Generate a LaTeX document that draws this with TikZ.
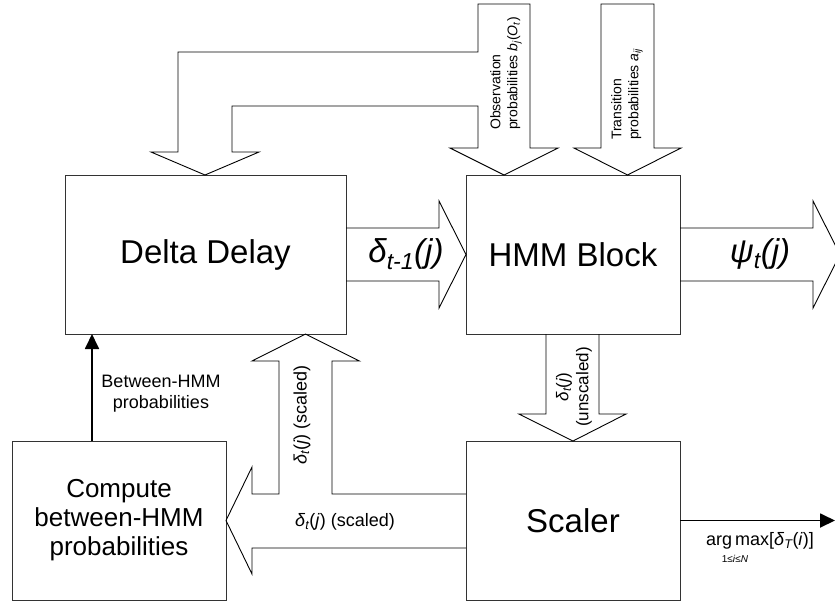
\documentclass[tikz,border=0pt]{standalone}
\usepackage{fontspec}
\setmainfont{Liberation Sans}
\usetikzlibrary{arrows.meta}
\begin{document}
\begin{tikzpicture}[x=1pt,y=1pt,
  box/.style={draw=black!80, line width=0.9pt, inner sep=0pt, outer sep=0pt,
    minimum width=214pt, minimum height=159pt, align=center},
  blockarrow/.style={draw=black, line width=0.9pt, line join=miter},
  thinarrow/.style={draw=black, line width=1.8pt, -{Triangle[length=15pt,width=14pt]}},
  bigtext/.style={font=\fontsize{33}{38}\selectfont},
  midtext/.style={font=\fontsize{26}{29}\selectfont},
  lbltext/.style={font=\fontsize{18}{21}\selectfont},
  smalltext/.style={font=\fontsize{14}{17}\selectfont},
]
\useasboundingbox (0,0) rectangle (835,-603);
\clip (0,0) rectangle (835,-603);

% boxes
\node[box, minimum width=281pt, bigtext] (dd) at (205.5,-254.5) {Delta Delay};
\node[box, bigtext] (hmm) at (573,-254.5) {HMM Block};
\node[box, bigtext] (sc) at (573,-520.5) {Scaler};
\node[box, midtext] (cmp) at (119,-520.5) {Compute\\between-HMM\\probabilities};

% observation arrow with branch to Delta Delay
\draw[blockarrow] (151,-152) -- (205,-175) -- (259,-152) -- (232,-152) -- (232,-106)
  -- (478,-106) -- (478,-148) -- (450,-148) -- (504,-175) -- (558,-148) -- (530,-148)
  -- (530,-4) -- (478,-4) -- (478,-52) -- (178,-52) -- (178,-152) -- cycle;
% transition arrow
\draw[blockarrow] (601,-4) -- (654,-4) -- (654,-148) -- (681,-148) -- (627.5,-175)
  -- (574,-148) -- (601,-148) -- cycle;
% delta t-1 arrow
\draw[blockarrow] (dd.east |- 0,-228) -- (439,-228) -- (439,-201) -- (hmm.west)
  -- (439,-308) -- (439,-281) -- (dd.east |- 0,-281);
% psi arrow
\draw[blockarrow] (hmm.east |- 0,-228) -- (813,-228) -- (813,-201) -- (840,-254.5)
  -- (813,-308) -- (813,-281) -- (hmm.east |- 0,-281);
% unscaled arrow
\draw[blockarrow] (546,-334) -- (546,-414) -- (519,-414) -- (sc.north)
  -- (626,-414) -- (599,-414) -- (599,-334);
% scaled arrows (up to Delta Delay and left to Compute)
\draw[blockarrow] (sc.west |- 0,-494) -- (332,-494) -- (332,-361) -- (359.5,-361)
  -- (305.5,-334) -- (252,-361) -- (279,-361) -- (279,-494) -- (252,-494)
  -- (252,-467) -- (cmp.east) -- (252,-574) -- (252,-548) -- (sc.west |- 0,-548);

% labels
\node[bigtext, font=\fontsize{33}{38}\selectfont\itshape] (l1) at (406,-254)
  {δ\textsubscript{t-1}(j)};
\node[bigtext, font=\fontsize{33}{38}\selectfont\itshape] (l2) at (760,-254)
  {ψ\textsubscript{t}(j)};
\node[smalltext, rotate=90, anchor=west, align=left, inner sep=0pt] (lobs) at (506,-130)
  {Observation\\probabilities \textit{b}\textsubscript{\itshape j}(\textit{O}\textsubscript{\itshape t})};
\node[smalltext, rotate=90, anchor=west, align=left, inner sep=0pt] (ltr) at (627,-140)
  {Transition\\probabilities \textit{a}\textsubscript{\itshape ij}};
\node[lbltext, font=\fontsize{17}{20}\selectfont, rotate=90, align=center, inner sep=0pt] (lun) at (574,-387)
  {\textit{δ}\textsubscript{\itshape t}(\textit{j})\\(unscaled)};
\node[lbltext, rotate=90, inner sep=0pt] (lsc1) at (302,-415)
  {\textit{δ}\textsubscript{\itshape t}(\textit{j}) (scaled)};
\node[lbltext, inner sep=0pt] (lsc2) at (345,-522)
  {\textit{δ}\textsubscript{\itshape t}(\textit{j}) (scaled)};
\node[lbltext, align=center, inner sep=0pt] (lbh) at (161,-394)
  {Between-HMM\\probabilities};
\node[lbltext, inner sep=0pt] (lam) at (760,-541)
  {arg\,max[\textit{δ}\textsubscript{\itshape T}(\textit{i})]};
\node[font=\fontsize{10}{12}\selectfont, inner sep=0pt] (lsub) at (735,-559)
  {1≤\textit{i}≤\textit{N}};

% thin arrows
\coordinate (bhx) at (92,0);
\coordinate (outend) at (835,-520.5);
\draw[thinarrow] (cmp.north -| bhx) -- (dd.south -| bhx);
\draw[thinarrow] (sc.east) -- (outend);
\end{tikzpicture}
\end{document}
